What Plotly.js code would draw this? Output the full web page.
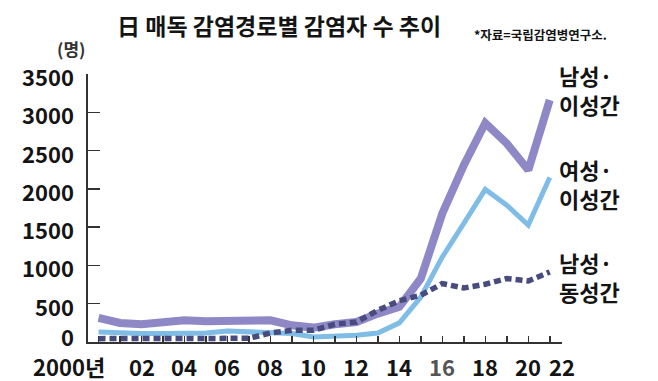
<!DOCTYPE html>
<html>
<head>
<meta charset="utf-8">
<script src="https://cdn.plot.ly/plotly-3.0.1.min.js"></script>
<style>
  html, body { margin: 0; padding: 0; background: #ffffff; }
  #chart { width: 658px; height: 381px; }
</style>
</head>
<body>
<div id="chart"></div>
<script>
// ---- data ----
const years = [2000, 2001, 2002, 2003, 2004, 2005, 2006, 2007, 2008, 2009, 2010,
               2011, 2012, 2013, 2014, 2015, 2016, 2017, 2018, 2019, 2020, 2021];
const maleHetero   = [314, 248, 231, 248, 284, 270, 270, 284, 284, 218, 188,
                      231, 261, 371, 458, 829, 1679, 2310, 2860, 2594, 2245, 3160];
const femaleHetero = [131, 118, 110, 110, 118, 118, 144, 131, 118, 110, 65,
                      74, 87, 118, 250, 588, 1111, 1548, 1992, 1787, 1526, 2149];
const maleHomo     = [44, 44, 52, 48, 57, 57, 48, 48, 118, 153, 153,
                      231, 261, 414, 540, 611, 763, 706, 754, 829, 797, 915];
const seriesLine1  = ['남성·', '여성·', '남성·'];
const seriesLine2  = ['이성간', '이성간', '동성간'];
const tickYears    = [2000, 2002, 2004, 2006, 2008, 2010, 2012, 2014, 2016, 2018, 2020, 2021];
const tickTexts    = ['2000년', '02', '04', '06', '08', '10', '12', '14', '16', '18', '20', '22'];
const yTicks       = [0, 500, 1000, 1500, 2000, 2500, 3000, 3500];
const titleText    = '日 매독 감염경로별 감염자 수 추이';
const sourceText   = '*자료=국립감염병연구소.';
const unitText     = '(명)';

const FONT = '"Noto Sans CJK KR", "Noto Sans", sans-serif';
const INK = '#141414';

const traces = [
  { x: years, y: femaleHetero, mode: 'lines', line: { color: '#80bde6', width: 5 }, hoverinfo: 'skip' },
  { x: years, y: maleHetero,   mode: 'lines', line: { color: '#8e88c6', width: 8 }, hoverinfo: 'skip' },
  { x: years, y: maleHomo,     mode: 'lines', line: { color: '#474b7e', width: 5.5, dash: '7px,4px' }, hoverinfo: 'skip' }
];

const annotations = [];
// x tick labels
tickTexts.forEach((t, i) => {
  const a = {
    x: tickYears[i], xref: 'x', y: 0, yref: 'paper',
    yanchor: 'middle', yshift: -24,
    text: t, showarrow: false,
    font: { family: FONT, size: 22, color: (t === '16' ? '#555555' : INK), weight: 'bold' }
  };
  if (i === 0) { a.xanchor = 'right'; a.xshift = 8; }
  else if (i === tickTexts.length - 1) { a.xanchor = 'left'; a.xshift = -3; }
  else { a.xanchor = 'center'; }
  annotations.push(a);
});
// y tick labels (the 0 is lifted clear of the x labels, as in the reference)
yTicks.forEach(v => {
  annotations.push({
    x: 0, xref: 'paper', xanchor: 'right', xshift: -12,
    y: v, yref: 'y', yanchor: 'middle', yshift: (v === 0 ? 6.5 : -2),
    text: String(v), showarrow: false,
    font: { family: FONT, size: 22, color: INK, weight: 'bold' }
  });
});
// series labels at right
const lastVals = [maleHetero[maleHetero.length - 1], femaleHetero[femaleHetero.length - 1], maleHomo[maleHomo.length - 1]];
const labelShift = [11, -6, -5];
seriesLine1.forEach((n, i) => {
  [[n, 14.5], [seriesLine2[i], -14.5]].forEach(([txt, d]) => {
    annotations.push({
      x: 1, xref: 'paper', xanchor: 'left', xshift: -5,
      y: lastVals[i], yref: 'y', yanchor: 'middle', yshift: labelShift[i] + d,
      text: txt, showarrow: false, align: 'left',
      font: { family: FONT, size: 22, color: INK, weight: 'bold' }
    });
  });
});
// source
annotations.push({
  x: 0.81, xref: 'paper', xanchor: 'left', y: 1.149, yref: 'paper', yanchor: 'middle',
  text: sourceText, showarrow: false,
  font: { family: FONT, size: 12.5, color: INK, weight: 'bold' }
});
// unit
annotations.push({
  x: -0.035, xref: 'paper', xanchor: 'center', y: 1.097, yref: 'paper', yanchor: 'middle',
  text: unitText, showarrow: false,
  font: { family: FONT, size: 17, color: '#333333', weight: 'bold' }
});

const layout = {
  width: 658, height: 381,
  margin: { l: 88, r: 96, t: 74, b: 39, pad: 0 },
  paper_bgcolor: '#ffffff', plot_bgcolor: '#ffffff',
  showlegend: false,
  title: {
    text: titleText, xref: 'container', yref: 'container',
    x: 117 / 658, xanchor: 'left', y: 1 - 27 / 381, yanchor: 'middle',
    font: { family: FONT, size: 23, color: INK, weight: 'bold' }
  },
  xaxis: {
    range: [1999.51, 2021.57],
    tickmode: 'array', tickvals: years, showticklabels: false,
    ticks: 'inside', ticklen: 6, tickwidth: 1.5, tickcolor: '#333333',
    showline: true, linecolor: '#333333', linewidth: 2,
    showgrid: false, zeroline: false, fixedrange: true
  },
  yaxis: {
    range: [0, 3500],
    tickmode: 'array', tickvals: yTicks, showticklabels: false,
    ticks: 'inside', ticklen: 12, tickwidth: 1.5, tickcolor: '#333333',
    showline: true, linecolor: '#333333', linewidth: 2,
    showgrid: false, zeroline: false, fixedrange: true
  },
  annotations: annotations
};

Plotly.newPlot('chart', traces, layout, { staticPlot: true, displayModeBar: false });
</script>
</body>
</html>
